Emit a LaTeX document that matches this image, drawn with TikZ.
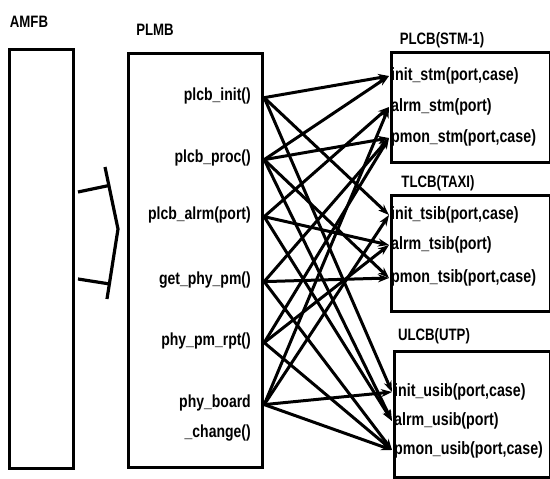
\documentclass[tikz,border=0pt]{standalone}
\usepackage{fontspec}
\setmainfont{Liberation Sans}[FakeStretch=0.8]
\usepackage{tikz}
\usetikzlibrary{arrows.meta, positioning, calc}

\begin{document}
\begin{tikzpicture}[
  x=1pt, y=-1pt,
  box/.style={draw, line width=3.2pt, anchor=north west, inner sep=0pt},
  ttl/.style={font=\fontsize{16.5}{18}\selectfont\bfseries},
  fn/.style={font=\fontsize{17.5}{30}\selectfont\bfseries, anchor=east, align=right, inner sep=1pt},
  op/.style={font=\fontsize{17.8}{20}\selectfont\bfseries, anchor=west, inner sep=1pt},
  arr/.style={-{Stealth[length=11pt, width=8pt]}, line width=3pt},
  lnk/.style={line width=3.2pt},
]
\useasboundingbox (0,0) rectangle (550,479);

% ---- AMFB -----------------------------------------------------------------
\node[ttl] (amfbT) at (29,22) {AMFB};
\node[box, minimum width=64pt, minimum height=419pt] (amfb) at (8,48) {};

% ---- interface between AMFB and PLMB ---------------------------------------
\coordinate (vTop) at (105,167);
\coordinate (vTip) at (118,229);
\coordinate (vBot) at (107,299);
\coordinate (hA) at (78,192);
\coordinate (hB) at (78,279);
\draw[lnk] (vTop) -- (vTip) -- (vBot);
\draw[lnk] (hA) -- ($(vTop)!(hA)!(vTip)$);
\draw[lnk] (hB) -- ($(vTip)!(hB)!(vBot)$);

% ---- PLMB -----------------------------------------------------------------
\node[ttl] (plmbT) at (155,30) {PLMB};
\node[box, minimum width=134pt, minimum height=414pt] (plmb) at (127,52) {};
\node[fn] (init) at (252,96) {plcb\_init()};
\node[fn] (proc) at (252,158) {plcb\_proc()};
\node[fn] (alrm) at (252,215) {plcb\_alrm(port)};
\node[fn] (getpm) at (252,280) {get\_phy\_pm()};
\node[fn] (pmrpt) at (252,341) {phy\_pm\_rpt()};
\node[fn] (board) at (252,418) {phy\_board\\\_change()};

% ---- PLCB(STM-1) ----------------------------------------------------------
\node[ttl] (plcbT) at (442,40) {PLCB(STM-1)};
\node[box, minimum width=159pt, minimum height=110pt] (plcb) at (390,51) {};
\node[op] (initS) at (390,76) {init\_stm(port,case)};
\node[op] (alrmS) at (390,107) {alrm\_stm(port)};
\node[op] (pmonS) at (390,138) {pmon\_stm(port,case)};

% ---- TLCB(TAXI) -----------------------------------------------------------
\node[ttl] (tlcbT) at (438,183) {TLCB(TAXI)};
\node[box, minimum width=159pt, minimum height=116pt] (tlcb) at (390,194) {};
\node[op] (initT) at (390,215) {init\_tsib(port,case)};
\node[op] (alrmT) at (390,245) {alrm\_tsib(port)};
\node[op] (pmonT) at (390,278) {pmon\_tsib(port,case)};

% ---- ULCB(UTP) ------------------------------------------------------------
\node[ttl] (ulcbT) at (434,336) {ULCB(UTP)};
\node[box, minimum width=156pt, minimum height=126pt] (ulcb) at (393,350) {};
\node[op] (initU) at (393,392) {init\_usib(port,case)};
\node[op] (alrmU) at (393,421) {alrm\_usib(port)};
\node[op] (pmonU) at (393,450) {pmon\_usib(port,case)};

% ---- calls ----------------------------------------------------------------
\foreach \src/\dsts in {init/{initS,initT,initU},
                        proc/{initS,pmonS,pmonT,alrmU},
                        alrm/{alrmS,alrmT,alrmU},
                        getpm/{pmonS,pmonT,pmonU},
                        pmrpt/{pmonS,alrmT,pmonU},
                        board/{alrmS,initT,initU,pmonU}} {
  \foreach \dst in \dsts {
    \draw[arr] (plmb.east |- \src.north) ++(0,11) -- ([xshift=-1pt]\dst.west);
  }
}

\end{tikzpicture}
\end{document}
